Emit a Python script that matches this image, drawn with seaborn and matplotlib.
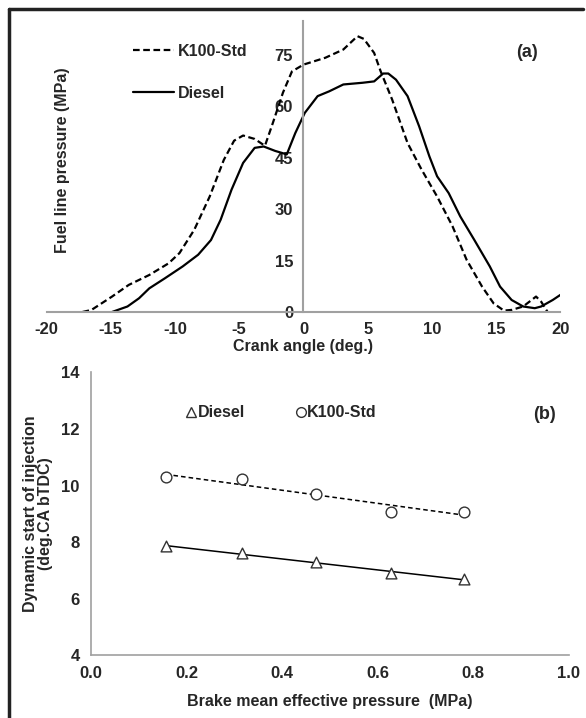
import numpy as np
import pandas as pd
import seaborn as sns
import matplotlib.pyplot as plt
from matplotlib.lines import Line2D

# ---- panel (a) : fuel line pressure vs crank angle ----
k100_angle = [-17.2, -16.5, -14.9, -13.6, -12.0, -10.5, -9.65, -8.5, -7.3, -6.2,
              -5.4, -4.7, -3.8, -3.0, -2.4, -1.6, -0.9, 0.0, 1.7, 3.1,
              4.2, 4.7, 5.5, 6.0, 6.9, 8.1, 9.2, 10.4, 11.6, 12.7, 13.9, 14.8,
              15.6, 16.2, 17.1, 18.1, 18.5, 19.0]
k100_press = [0.0, 0.6, 4.5, 7.9, 10.8, 14.2, 17.2, 24.0, 33.7, 44.4,
              50.0, 51.5, 50.5, 48.5, 55.0, 64.0, 70.2, 72.2, 74.2, 76.6,
              80.5, 79.7, 75.6, 70.3, 62.0, 49.3, 41.5, 33.7, 25.0, 15.2, 7.4, 2.5,
              0.4, 0.6, 1.6, 4.5, 3.0, 0.0]

diesel_angle = [-14.9, -13.7, -12.8, -12.0, -10.8, -9.4, -8.2, -7.2, -6.45, -5.6,
                -4.7, -3.8, -3.1, -2.2, -1.3, -0.64, 0.1, 1.1, 2.0, 3.1, 4.6,
                5.5, 6.2, 6.6, 7.2, 8.1, 9.0, 9.8, 10.4, 11.3, 12.2, 13.3, 14.5,
                15.3, 16.2, 17.1, 18.0, 18.5, 19.4, 20.0]
diesel_press = [0.0, 1.6, 4.0, 6.9, 9.8, 13.3, 16.7, 21.0, 26.9, 35.7,
                43.5, 47.9, 48.3, 47.0, 46.0, 52.2, 58.1, 63.0, 64.4, 66.4, 66.9,
                67.3, 69.6, 69.6, 67.8, 63.0, 54.2, 45.4, 39.6, 34.7, 27.9, 21.0, 13.3,
                7.4, 3.5, 1.6, 1.1, 1.6, 3.5, 5.0]

# ---- panel (b) : dynamic start of injection vs BMEP ----
bmep = [0.157, 0.317, 0.471, 0.628, 0.78]
soi_diesel = [7.86, 7.60, 7.29, 6.90, 6.70]
soi_k100 = [10.29, 10.23, 9.70, 9.07, 9.07]

sns.set_style("white")
plt.rcParams['font.family'] = ['Liberation Sans', 'DejaVu Sans']
plt.rcParams['font.weight'] = 'bold'
plt.rcParams['axes.unicode_minus'] = False

fig = plt.figure(figsize=(5.86, 7.18), dpi=100)
gray = '#a0a0a0'

# frame around the figure (left and top only visible)
fig.add_artist(Line2D([0.016, 0.016], [0.0, 0.987], transform=fig.transFigure, color='#222222', lw=2.5))
fig.add_artist(Line2D([0.016, 0.995], [0.987, 0.987], transform=fig.transFigure, color='#222222', lw=2.5))

'''*********** (a) ***********'''
ax1 = fig.add_axes([0.0794, 0.5655, 0.877, 0.4056])
dfa = pd.DataFrame({'angle': k100_angle + diesel_angle,
                    'press': k100_press + diesel_press,
                    'fuel': ['K100-Std'] * len(k100_angle) + ['Diesel'] * len(diesel_angle)})
sns.lineplot(data=dfa, x='angle', y='press', hue='fuel', style='fuel',
             palette={'K100-Std': 'black', 'Diesel': 'black'},
             dashes={'K100-Std': (3, 1.6), 'Diesel': ''},
             sort=False, linewidth=1.6, ax=ax1, legend=False)
ax1.set_xlim(-20, 20)
ax1.set_ylim(0, 85)
ax1.spines['left'].set_position(('data', 0))
ax1.spines['bottom'].set_position(('data', 0))
ax1.spines['right'].set_visible(False)
ax1.spines['top'].set_visible(False)
for s in ['left', 'bottom']:
    ax1.spines[s].set_color(gray)
    ax1.spines[s].set_linewidth(1.5)
ax1.set_xticks(np.arange(-20, 21, 5))
ax1.set_yticks(np.arange(0, 76, 15))
ax1.tick_params(axis='both', direction='inout', length=9, width=1.2, color=gray,
                labelsize=12, pad=3)
for lab in ax1.get_xticklabels() + ax1.get_yticklabels():
    lab.set_fontweight('bold')
ax1.set_xlabel('Crank angle (deg.)', fontsize=11.5, fontweight='bold', labelpad=1)
ax1.set_ylabel('Fuel line pressure (MPa)', fontsize=11.5, fontweight='bold')
ax1.yaxis.set_label_coords(0.045, 0.52)

handles = [Line2D([], [], color='black', lw=1.6, dashes=(3, 1.6)),
           Line2D([], [], color='black', lw=1.6)]
ax1.legend(handles, ['K100-Std', 'Diesel'], loc='upper left', bbox_to_anchor=(0.14, 0.97),
           frameon=False, handlelength=2.6, handletextpad=0.2, labelspacing=1.7,
           prop={'size': 11.5, 'weight': 'bold'})
ax1.text(0.935, 0.875, '(a)', transform=ax1.transAxes, fontsize=13, fontweight='bold', ha='center')

'''*********** (b) ***********'''
ax2 = fig.add_axes([0.155, 0.0873, 0.8157, 0.394])
sns.regplot(x=bmep, y=soi_diesel, scatter=False, ci=None, ax=ax2,
            line_kws={'color': 'black', 'lw': 1.1})
sns.regplot(x=bmep, y=soi_k100, scatter=False, ci=None, ax=ax2,
            line_kws={'color': 'black', 'lw': 1.1, 'dashes': (3, 2)})
sns.scatterplot(x=bmep, y=soi_diesel, marker='^', s=60, facecolor='white',
                edgecolor='#333333', linewidth=1.0, ax=ax2, zorder=3)
sns.scatterplot(x=bmep, y=soi_k100, marker='o', s=60, facecolor='white',
                edgecolor='#333333', linewidth=1.0, ax=ax2, zorder=3)
ax2.set_xlim(0, 1.0)
ax2.set_ylim(4, 14)
ax2.set_xticks(np.arange(0, 1.01, 0.2))
ax2.set_yticks(np.arange(4, 15, 2))
ax2.set_xticklabels(['0.0', '0.2', '0.4', '0.6', '0.8', '1.0'])
ax2.spines['right'].set_visible(False)
ax2.spines['top'].set_visible(False)
for s in ['left', 'bottom']:
    ax2.spines[s].set_color(gray)
    ax2.spines[s].set_linewidth(1.2)
ax2.tick_params(axis='both', direction='inout', length=8, width=1.0, color=gray,
                labelsize=12, pad=4)
for lab in ax2.get_xticklabels() + ax2.get_yticklabels():
    lab.set_fontweight('bold')
ax2.set_xlabel('Brake mean effective pressure  (MPa)', fontsize=11.5, fontweight='bold', labelpad=9)
ax2.set_ylabel('Dynamic start of injection\n(deg.CA bTDC)', fontsize=11.5, fontweight='bold',
               linespacing=1.0, labelpad=6)

mk = [Line2D([], [], marker='^', ls='none', markerfacecolor='white', markeredgecolor='#333333', markersize=7),
      Line2D([], [], marker='o', ls='none', markerfacecolor='white', markeredgecolor='#333333', markersize=7)]
ax2.legend(mk, ['Diesel', 'K100-Std'], loc='upper left', bbox_to_anchor=(0.17, 0.935), ncol=2,
           frameon=False, handlelength=0.6, handletextpad=0.1, columnspacing=3.2,
           prop={'size': 11.5, 'weight': 'bold'})
ax2.text(0.95, 0.835, '(b)', transform=ax2.transAxes, fontsize=13, fontweight='bold', ha='center')

plt.savefig('out.png', dpi=100)
